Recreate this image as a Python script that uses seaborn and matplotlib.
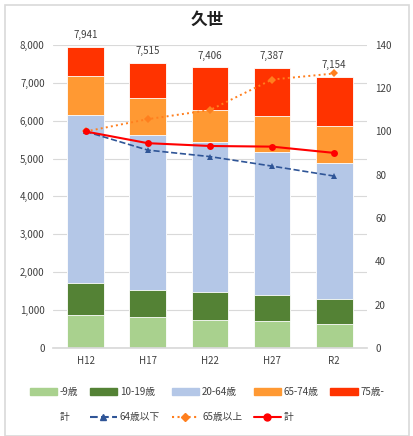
import numpy as np
import pandas as pd
import matplotlib
matplotlib.use("Agg")
import matplotlib.pyplot as plt
import matplotlib.patches as mpatches
import seaborn as sns

# データ
years = ["H12", "H17", "H22", "H27", "R2"]
age_0_9 = [863, 810, 747, 704, 633]
age_10_19 = [860, 720, 723, 694, 652]
age_20_64 = [4425, 4090, 3965, 3765, 3596]
age_65_74 = [1029, 976, 853, 958, 976]
age_75 = [764, 919, 1118, 1266, 1297]
totals = [7941, 7515, 7406, 7387, 7154]

idx_under64 = [100, 91.4, 88.4, 84.0, 79.4]
idx_over65 = [100, 105.7, 109.9, 124.0, 126.8]
idx_total = [100, 94.6, 93.3, 93.0, 90.1]

age_labels = ["-9歳", "10-19歳", "20-64歳", "65-74歳", "75歳-"]
bar_colors = ["#A9D18E", "#548235", "#B4C7E7", "#FF9933", "#FF3300"]

sns.set_theme(style="white")
plt.rcParams["font.family"] = ["Noto Sans CJK JP", "DejaVu Sans"]

df = pd.DataFrame({"年": years, "-9歳": age_0_9, "10-19歳": age_10_19,
                   "20-64歳": age_20_64, "65-74歳": age_65_74, "75歳-": age_75})
cum = df[age_labels].cumsum(axis=1)

fig = plt.figure(figsize=(4.14, 4.36), dpi=100)
ax = fig.add_axes([0.128, 0.202, 0.758, 0.695])

handles = []
# 積み上げ：上から順に重ねて描く
for lab, col in reversed(list(zip(age_labels, bar_colors))):
    sns.barplot(x=df["年"], y=cum[lab], color=col, width=0.59, ax=ax,
                edgecolor="white", linewidth=0.6, saturation=1)
for lab, col in zip(age_labels, bar_colors):
    handles.append(mpatches.Patch(color=col, label=lab))

for i, t in enumerate(totals):
    ax.text(i, t + 180, f"{t:,}", ha="center", va="bottom", fontsize=7, color="#404040")

ax.set_ylim(0, 8000)
ax.set_yticks(range(0, 8001, 1000))
ax.set_yticklabels([f"{v:,}" for v in range(0, 8001, 1000)])
ax.set_xlabel("")
ax.set_ylabel("")
ax.yaxis.grid(True, color="#D9D9D9", linewidth=0.8)
ax.set_axisbelow(True)
for s in ["left", "right", "top"]:
    ax.spines[s].set_visible(False)
ax.spines["bottom"].set_color("#D9D9D9")
ax.tick_params(axis="both", labelsize=7, colors="#404040", length=0, pad=6)

ax2 = ax.twinx()
xpos = np.arange(len(years))
sns.lineplot(x=xpos, y=idx_under64, ax=ax2, color="#2F5597", linestyle="--",
             marker="^", markersize=5, markeredgewidth=0, linewidth=1.2)
sns.lineplot(x=xpos, y=idx_over65, ax=ax2, color="#FF7F1E", linestyle=":",
             marker="D", markersize=4, markeredgewidth=0, linewidth=1.4)
sns.lineplot(x=xpos, y=idx_total, ax=ax2, color="#FF0000", linestyle="-",
             marker="o", markersize=5, markeredgewidth=0, linewidth=1.5)
ax2.set_ylim(0, 140)
ax2.set_yticks(range(0, 141, 20))
for s in ["left", "right", "top", "bottom"]:
    ax2.spines[s].set_visible(False)
ax2.tick_params(axis="y", labelsize=7, colors="#404040", length=0, pad=6)
ax2.set_ylabel("")

line_h = [
    plt.Line2D([], [], color="#2F5597", linestyle="--", marker="^", markersize=5, label="64歳以下"),
    plt.Line2D([], [], color="#FF7F1E", linestyle=":", marker="D", markersize=4, label="65歳以上"),
    plt.Line2D([], [], color="#FF0000", linestyle="-", marker="o", markersize=5, label="計"),
]
blank = mpatches.Patch(color="none", label="計")

order = [handles[0], blank, handles[1], line_h[0], handles[2], line_h[1],
         handles[3], line_h[2], handles[4]]
fig.legend(handles=order, labels=[h.get_label() for h in order], ncol=5,
           loc="upper center", bbox_to_anchor=(0.5, 1 - 378 / 436), frameon=False,
           fontsize=7, handlelength=2.8, handleheight=0.7, labelspacing=1.6,
           columnspacing=1.2, handletextpad=0.3, labelcolor="#404040")

fig.text(0.5, 1 - 20 / 436, "久世", ha="center", va="center", fontsize=12,
         fontweight="bold", color="#202020")
fig.patches.append(mpatches.Rectangle((0.012, 0.0), 0.976, 0.988, transform=fig.transFigure,
                                      fill=False, edgecolor="#D9D9D9", linewidth=1.2))

fig.savefig("out.png", dpi=100, facecolor="white")
